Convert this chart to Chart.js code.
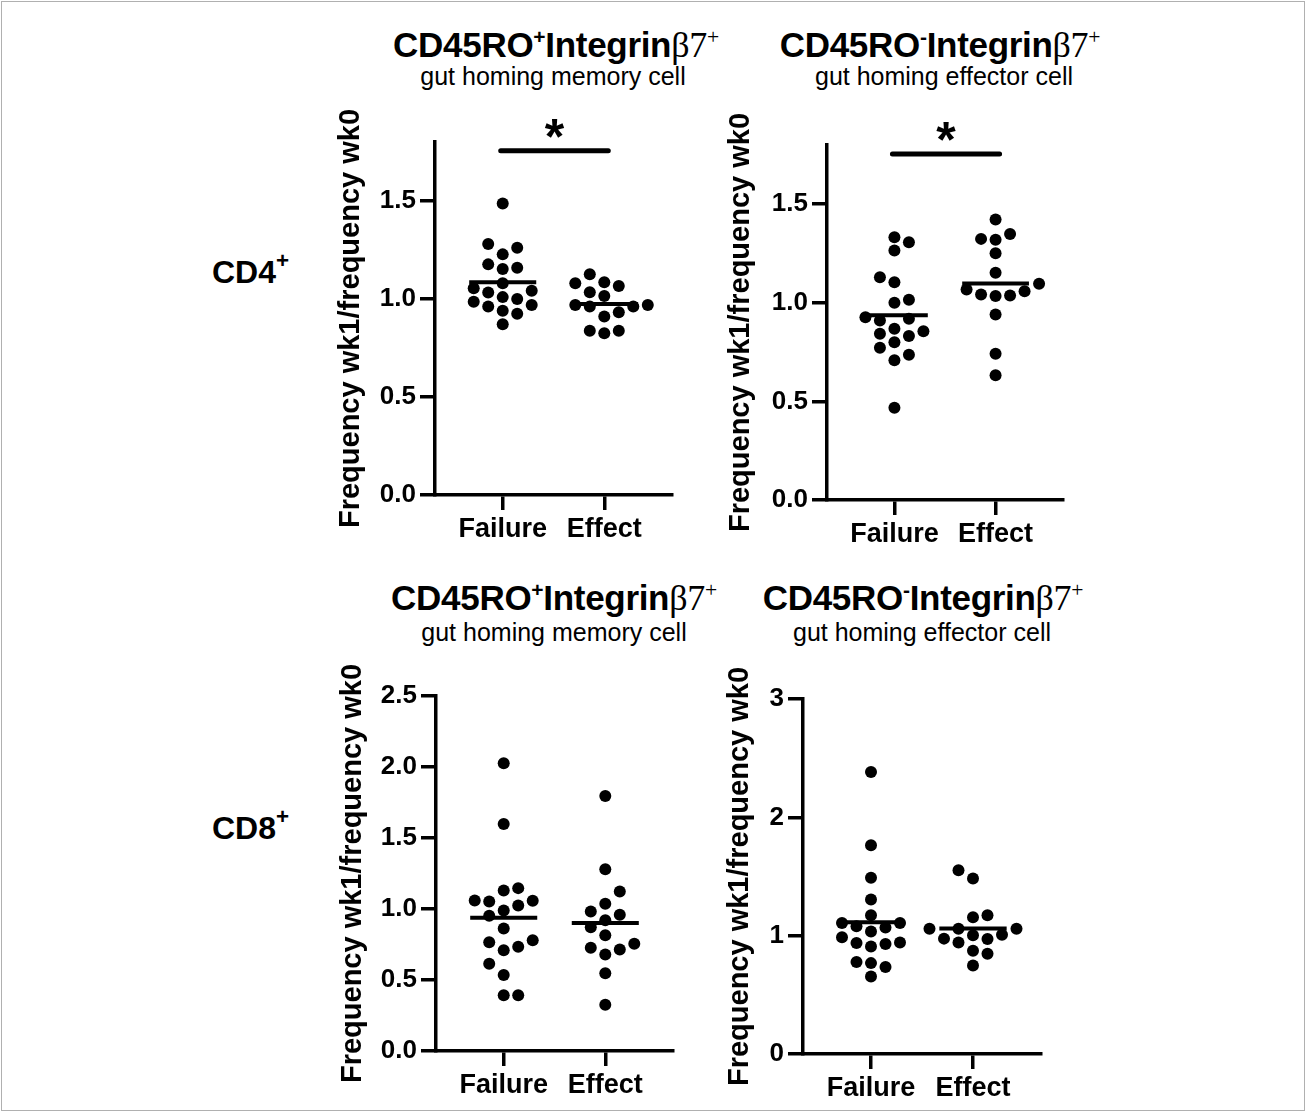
<!DOCTYPE html>
<html>
<head>
<meta charset="utf-8">
<script src="https://cdn.jsdelivr.net/npm/chart.js@4.4.1/dist/chart.umd.min.js"></script>
<style>
html, body { margin:0; padding:0; background:#fff; }
#fig { position:relative; width:1306px; height:1112px; overflow:hidden; font-family:"Liberation Sans", Arial, Helvetica, sans-serif; color:#000; }
#frame { position:absolute; left:1px; top:1px; width:1302px; height:1108px; border:1px solid #b0b0b0; }
canvas { position:absolute; }
.head { position:absolute; white-space:nowrap; transform:translateX(-50%); line-height:1; }
.t1 { font-weight:bold; font-size:35px; letter-spacing:-0.3px; }
.t2 { font-size:25px; }
.greek { font-family:"Liberation Serif", "DejaVu Serif", serif; font-weight:normal; font-size:1.03em; }
sup { font-size:0.6em; vertical-align:0.6em; line-height:0; }
.row { position:absolute; font-weight:bold; font-size:32px; line-height:1; }
.row sup { font-size:0.7em; vertical-align:0.65em; }
</style>
</head>
<body>
<div id="fig">
  <div id="frame"></div>
  <div class="head t1" style="left:556px; top:27px">CD45RO<sup>+</sup>Integrin<span class="greek">β7<sup>+</sup></span></div>
  <div class="head t2" style="left:553px; top:64px">gut homing memory cell</div>
  <div class="head t1" style="left:940px; top:27px">CD45RO<sup>-</sup>Integrin<span class="greek">β7<sup>+</sup></span></div>
  <div class="head t2" style="left:944px; top:64px">gut homing effector cell</div>
  <div class="head t1" style="left:554px; top:580px">CD45RO<sup>+</sup>Integrin<span class="greek">β7<sup>+</sup></span></div>
  <div class="head t2" style="left:554px; top:620px">gut homing memory cell</div>
  <div class="head t1" style="left:923px; top:580px">CD45RO<sup>-</sup>Integrin<span class="greek">β7<sup>+</sup></span></div>
  <div class="head t2" style="left:922px; top:620px">gut homing effector cell</div>
  <div class="row" style="left:212px; top:256px">CD4<sup>+</sup></div>
  <div class="row" style="left:212px; top:812px">CD8<sup>+</sup></div>
</div>
<script>
// groups on the x axis
const categories = ['Failure', 'Effect'];

// CD4+ memory (CD45RO+ Integrin b7+)
const cd4MemFailure = [1.487, 1.227, 1.261, 1.280, 1.153, 1.159, 1.176, 1.080, 1.042, 1.054,
                       1.032, 0.986, 1.000, 1.009, 0.969, 0.939, 0.924, 0.961, 0.871];
const cd4MemEffect = [1.126, 1.080, 1.066, 1.085, 1.015, 1.034, 0.961, 0.969, 0.961, 0.969,
                      0.910, 0.932, 0.825, 0.837, 0.837];

// CD4+ effector (CD45RO- Integrin b7+)
const cd4EffFailure = [1.307, 1.332, 1.265, 1.104, 1.130, 1.000, 1.015, 0.919, 0.910, 0.927,
                       0.856, 0.868, 0.831, 0.843, 0.800, 0.772, 0.737, 0.708, 0.468];
const cd4EffEffect = [1.422, 1.349, 1.319, 1.324, 1.251, 1.152, 1.096, 1.067, 1.034, 1.059,
                      1.037, 1.042, 0.941, 0.742, 0.632];

// CD8+ memory
const cd8MemFailure = [2.027, 1.598, 1.130, 1.147, 1.058, 1.053, 1.060, 1.025, 0.990, 0.953,
                       0.862, 0.780, 0.766, 0.710, 0.734, 0.615, 0.535, 0.392, 0.392];
const cd8MemEffect = [1.796, 1.280, 1.123, 1.037, 0.983, 0.960, 0.920, 0.871, 0.815, 0.715,
                      0.680, 0.727, 0.755, 0.547, 0.325];

// CD8+ effector
const cd8EffFailure = [2.384, 1.765, 1.489, 1.305, 1.172, 1.079, 1.107, 1.070, 1.107, 1.036,
                       0.986, 0.943, 0.929, 0.938, 0.909, 0.777, 0.768, 0.735, 0.655];
const cd8EffEffect = [1.483, 1.553, 1.172, 1.155, 1.059, 1.059, 1.008, 0.975, 1.003, 1.059,
                      0.972, 0.943, 0.873, 0.847, 0.748];

// y axis ticks
const cd4Ticks = [0, 0.5, 1.0, 1.5];
const cd8MemTicks = [0, 0.5, 1.0, 1.5, 2.0, 2.5];
const cd8EffTicks = [0, 1, 2, 3];

const yTitle = 'Frequency wk1/frequency wk0';
const FONT = '"Liberation Sans", Arial, Helvetica, sans-serif';
const DOT = 6;

const panels = [
  { groups: [cd4MemFailure, cd4MemEffect], ticks: cd4Ticks, max: 1.8, digits: 1, sig: 1.755,
    plot: [435, 142, 672, 495], titleX: 352 },
  { groups: [cd4EffFailure, cd4EffEffect], ticks: cd4Ticks, max: 1.8, digits: 1, sig: 1.755,
    plot: [827, 145, 1063, 500], titleX: 742 },
  { groups: [cd8MemFailure, cd8MemEffect], ticks: cd8MemTicks, max: 2.5, digits: 1, sig: null,
    plot: [436, 696, 673, 1051], titleX: 354 },
  { groups: [cd8EffFailure, cd8EffEffect], ticks: cd8EffTicks, max: 3, digits: 0, sig: null,
    plot: [803, 699, 1041, 1054], titleX: 741 }
];

// mean bars + significance bar
const extras = {
  id: 'extras',
  afterDatasetsDraw(chart, args, opts) {
    const ctx = chart.ctx, x = chart.scales.x, y = chart.scales.y;
    ctx.save();
    ctx.strokeStyle = '#000';
    ctx.fillStyle = '#000';
    ctx.lineWidth = 4;
    opts.groups.forEach((vals, i) => {
      const mean = vals.reduce((a, b) => a + b, 0) / vals.length;
      const py = y.getPixelForValue(mean);
      ctx.beginPath();
      ctx.moveTo(x.getPixelForValue(i + 1 - 0.33), py);
      ctx.lineTo(x.getPixelForValue(i + 1 + 0.33), py);
      ctx.stroke();
    });
    if (opts.sig != null) {
      const by = y.getPixelForValue(opts.sig);
      const x1 = x.getPixelForValue(1) - 2, x2 = x.getPixelForValue(2) + 4;
      ctx.lineWidth = 5;
      ctx.lineCap = 'round';
      ctx.beginPath();
      ctx.moveTo(x1, by);
      ctx.lineTo(x2, by);
      ctx.stroke();
      ctx.font = 'bold 50px ' + FONT;
      ctx.textAlign = 'center';
      ctx.textBaseline = 'alphabetic';
      ctx.fillText('*', (x1 + x2) / 2, by + 3);
    }
    ctx.restore();
  }
};

// prism-like column scatter, offsets in pixels then back to x units
function swarm(chart, vals, cat) {
  const xs = chart.scales.x, ys = chart.scales.y;
  const unit = xs.getPixelForValue(2) - xs.getPixelForValue(1);
  const d = DOT * 2 + 1, step = 14.5;
  const placed = [];
  const out = new Array(vals.length);
  const order = vals.map((v, i) => i).sort((a, b) => vals[a] - vals[b]);
  order.forEach(i => {
    const py = ys.getPixelForValue(vals[i]);
    let best = null;
    for (let k = 0; k < 15 && best === null; k++) {
      const bal = placed.reduce((s, q) => s + Math.sign(q.x), 0);
      const cands = k === 0 ? [0] : (bal > 0 ? [-k, k] : [k, -k]);
      for (const c of cands) {
        const px = c * step;
        if (placed.every(q => (q.x - px) ** 2 + (q.y - py) ** 2 >= d * d)) { best = px; break; }
      }
    }
    placed.push({ x: best, y: py });
    out[i] = { x: cat + best / unit, y: vals[i] };
  });
  return out;
}

const fig = document.getElementById('fig');
panels.forEach(p => {
  const [pl, pt, pr, pb] = p.plot;
  const cl = p.titleX - 18, ct = pt - 50;
  const cw = pr + 12 - cl, ch = pb + 60 - ct;
  const cv = document.createElement('canvas');
  cv.width = cw; cv.height = ch;
  cv.style.left = cl + 'px'; cv.style.top = ct + 'px';
  fig.appendChild(cv);

  const chart = new Chart(cv, {
    type: 'scatter',
    data: {
      datasets: p.groups.map((vals, i) => ({
        data: vals.map(v => ({ x: i + 1, y: v })),
        backgroundColor: '#000',
        borderWidth: 0,
        pointRadius: DOT,
        pointHoverRadius: DOT
      }))
    },
    options: {
      responsive: false,
      animation: false,
      devicePixelRatio: 1,
      layout: { padding: { top: 50, right: 12, left: 0, bottom: 0 } },
      plugins: {
        legend: { display: false },
        tooltip: { enabled: false },
        extras: { groups: p.groups, sig: p.sig }
      },
      scales: {
        x: {
          type: 'linear', min: 1 / 3, max: 8 / 3,
          afterBuildTicks: s => { s.ticks = categories.map((c, i) => ({ value: i + 1 })); },
          afterFit: s => { s.height = ch - (pb - ct); },
          ticks: {
            callback: v => categories[Math.round(v) - 1],
            font: { family: FONT, size: 27, weight: 'bold' },
            color: '#000', padding: 3, maxRotation: 0, autoSkip: false
          },
          grid: { drawOnChartArea: false, tickLength: 15, lineWidth: 3.5, color: '#000' },
          border: { width: 3.5, color: '#000' }
        },
        y: {
          min: 0, max: p.max,
          afterBuildTicks: s => { s.ticks = p.ticks.map(v => ({ value: v })); },
          afterFit: s => { s.width = pl - cl; },
          ticks: {
            callback: v => v.toFixed(p.digits),
            font: { family: FONT, size: 26, weight: 'bold' },
            color: '#000', padding: 4
          },
          title: {
            display: true, text: yTitle, color: '#000', padding: 0,
            font: { family: FONT, size: 29, weight: 'bold' }
          },
          grid: { drawOnChartArea: false, tickLength: 15, lineWidth: 3.5, color: '#000' },
          border: { width: 3.5, color: '#000' }
        }
      }
    },
    plugins: [extras]
  });

  p.groups.forEach((vals, i) => {
    chart.data.datasets[i].data = swarm(chart, vals, i + 1);
  });
  chart.update('none');
});
</script>
</body>
</html>
